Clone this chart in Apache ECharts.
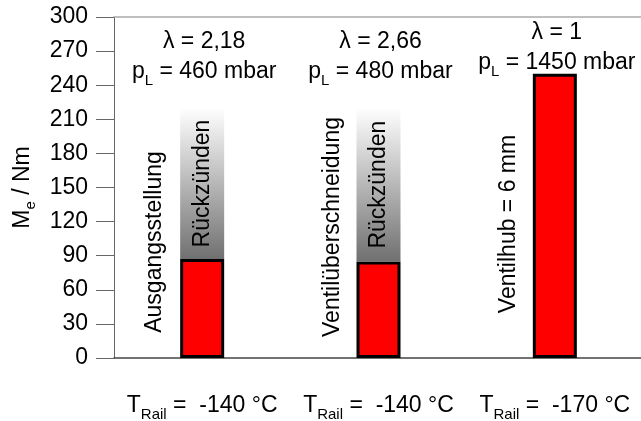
<!DOCTYPE html>
<html><head><meta charset="utf-8">
<script src="https://cdn.jsdelivr.net/npm/echarts@6/dist/echarts.min.js"></script>
<style>html,body{margin:0;padding:0;background:#fff}#c{width:641px;height:421px}</style>
</head><body><div id="c"></div>
<script>
// ---- data ----
const railTemps = ['-140 °C', '-140 °C', '-170 °C'];
const torque = [87, 85, 250];
const backfireTop = [220, 220, null];
const lambdaVals = ['2,18', '2,66', '1'];
const pressures = ['460', '480', '1450'];
const sideLabels = ['Ausgangsstellung', 'Ventilüberschneidung', 'Ventilhub = 6 mm'];
const backfireLabel = 'Rückzünden';
const yMin = 0, yMax = 300, yStep = 30;

const FONT = 'Liberation Sans, Arial, sans-serif';
const FS = 23;
const rich = {
  t: { fontSize: FS, fontFamily: FONT, color: '#000', lineHeight: 23, verticalAlign: 'top' },
  s: { fontSize: 15, fontFamily: FONT, color: '#000', lineHeight: 15, padding: [13, 0, 0, 0], verticalAlign: 'top' }
};

const chart = echarts.init(document.getElementById('c'), null, { renderer: 'canvas' });
const backfire = torque.map((v, i) => backfireTop[i] == null ? null : backfireTop[i] - v);

chart.setOption({
  animation: false,
  grid: { left: 114, top: 17, width: 529, bottom: 63, containLabel: false, outerBoundsMode: 'none' },
  xAxis: [{
    type: 'category', data: railTemps,
    axisLine: { lineStyle: { color: '#444', width: 1.5 } },
    axisTick: { show: false },
    axisLabel: {
      margin: 36, interval: 0,
      formatter: v => '{t|T}{s|Rail}{t| =  ' + v + '}',
      rich: rich
    }
  }, {
    type: 'category', position: 'top', data: railTemps,
    axisLine: { lineStyle: { color: '#aaa', width: 1.5 } },
    axisTick: { show: false }, axisLabel: { show: false }
  }],
  yAxis: {
    type: 'value', min: yMin, max: yMax, interval: yStep,
    axisLine: { show: true, lineStyle: { color: '#666', width: 1 } },
    axisTick: { show: true, length: 18, lineStyle: { color: '#666' } },
    axisLabel: { margin: 26, fontSize: FS, fontFamily: FONT, color: '#000' },
    splitLine: { show: false },
    name: '{t|M}{s|e}{t| / Nm}',
    nameLocation: 'middle', nameGap: 78, nameRotate: 90,
    nameTextStyle: { rich: rich }
  },
  series: [{
    type: 'bar', stack: 'a', data: torque, barWidth: 44,
    itemStyle: { color: '#ff0000', borderColor: '#000', borderWidth: 3 }
  }, {
    type: 'bar', stack: 'a', data: backfire, barWidth: 44,
    itemStyle: {
      color: new echarts.graphic.LinearGradient(0, 0, 0, 1, [
        { offset: 0, color: '#ffffff' },
        { offset: 1, color: '#707070' }
      ])
    },
    label: {
      show: true, position: 'inside', rotate: 90,
      formatter: backfireLabel,
      fontSize: FS, fontFamily: FONT, color: '#000'
    }
  }]
});

function place() {
  const g = [];
  const topPx = chart.convertToPixel({ yAxisIndex: 0 }, yMax);
  railTemps.forEach((c, i) => {
    const x = chart.convertToPixel({ xAxisIndex: 0 }, i);
    const last = i === railTemps.length - 1;
    const lamY = topPx + (last ? 16 : 25);
    g.push({
      type: 'text', x: x + 2, y: lamY,
      style: { text: 'λ = ' + lambdaVals[i], font: FS + 'px ' + FONT, fill: '#000', align: 'center', verticalAlign: 'middle' }
    });
    g.push({
      type: 'text', x: x + 2, y: lamY + 28 - 10,
      style: { text: '{t|p}{s|L}{t| = ' + pressures[i] + ' mbar}', rich: rich, align: 'center', verticalAlign: 'top' }
    });
    const cy = [242, 227, 224][i];
    g.push({
      type: 'text', x: x + (i === 0 ? -48 : -46), y: cy, rotation: Math.PI / 2,
      style: { text: sideLabels[i], font: FS + 'px ' + FONT, fill: '#000', align: 'center', verticalAlign: 'middle' }
    });
  });
  chart.setOption({ graphic: g });
}
place();
</script></body></html>
